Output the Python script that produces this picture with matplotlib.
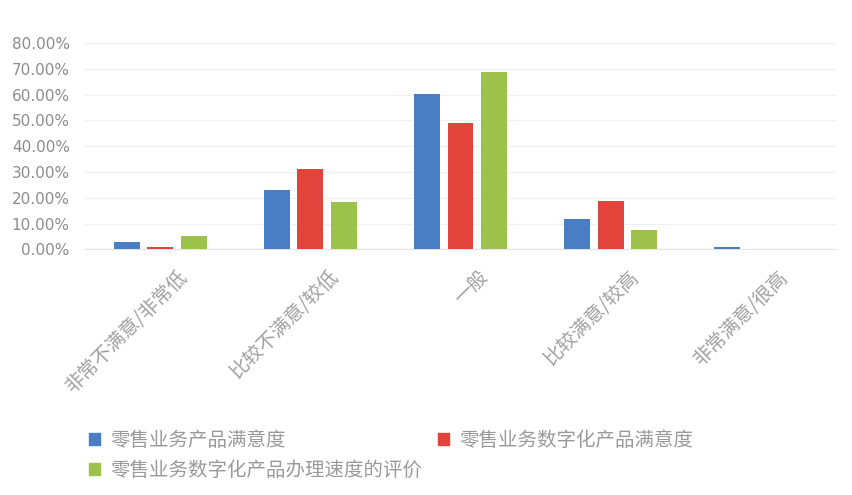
import numpy as np
import matplotlib
matplotlib.use("Agg")
from matplotlib import pyplot as plt
from matplotlib.patches import Patch
from matplotlib.ticker import FuncFormatter
import matplotlib.transforms as mtransforms

plt.rcParams['font.family'] = ['Noto Sans CJK SC', 'DejaVu Sans']

# ---------------- data ----------------
categories = ["非常不满意/非常低", "比较不满意/较低", "一般", "比较满意/较高", "非常满意/很高"]
series_names = ["零售业务产品满意度", "零售业务数字化产品满意度", "零售业务数字化产品办理速度的评价"]
product = [0.028, 0.232, 0.603, 0.120, 0.011]
digital = [0.011, 0.310, 0.490, 0.187, 0.0]
speed = [0.053, 0.185, 0.688, 0.075, 0.0]
y_ticks = [0.0, 0.1, 0.2, 0.3, 0.4, 0.5, 0.6, 0.7, 0.8]

colors = ["#4a7ec4", "#e2433b", "#9dc24c"]
text_gray = "#8c8c8c"

# ---------------- figure ----------------
fig = plt.figure(figsize=(8.53, 4.95), dpi=100)
ax = fig.add_axes([0.0997, 0.496, 0.8803, 0.417])

x = np.arange(len(categories))
width = 0.173
step = 0.223
for i, vals in enumerate([product, digital, speed]):
    ax.bar(x + (i - 1) * step, vals, width, color=colors[i], zorder=3)

ax.set_xlim(-0.5, len(categories) - 0.5)
ax.set_ylim(0, 0.8)
ax.set_yticks(y_ticks)
ax.yaxis.set_major_formatter(FuncFormatter(lambda v, p: f"{v * 100:.2f}%"))
ax.tick_params(axis='y', length=0, pad=11, labelsize=11, labelcolor=text_gray)
for lbl in ax.get_yticklabels():
    lbl.set_family('DejaVu Sans')

ax.grid(axis='y', color='#f1f1f1', linewidth=1, zorder=0)
for s in ['top', 'right', 'left']:
    ax.spines[s].set_visible(False)
ax.spines['bottom'].set_color('#e4e4e4')

# category labels, slanted
ax.set_xticks(x)
ax.set_xticklabels(categories, rotation=45, ha='right', va='top',
                   rotation_mode='anchor', fontsize=14, color='#a0a0a0')
ax.tick_params(axis='x', length=0, pad=12)
shift = mtransforms.ScaledTranslation(17 / 100, 0, fig.dpi_scale_trans)
for lbl in ax.get_xticklabels():
    lbl.set_transform(lbl.get_transform() + shift)

# legend, filled row by row
handles = [Patch(color=c) for c in colors]
order = [0, 2, 1]
fig.legend([handles[i] for i in order], [series_names[i] for i in order],
           ncol=2, loc='upper left', bbox_to_anchor=(0.095, 0.147),
           frameon=False, fontsize=14, labelcolor='#9a9a9a',
           handlelength=0.6, handleheight=0.6, handletextpad=0.5,
           columnspacing=0.8, labelspacing=0.45, borderaxespad=0)

fig.savefig("out.png", dpi=100)
